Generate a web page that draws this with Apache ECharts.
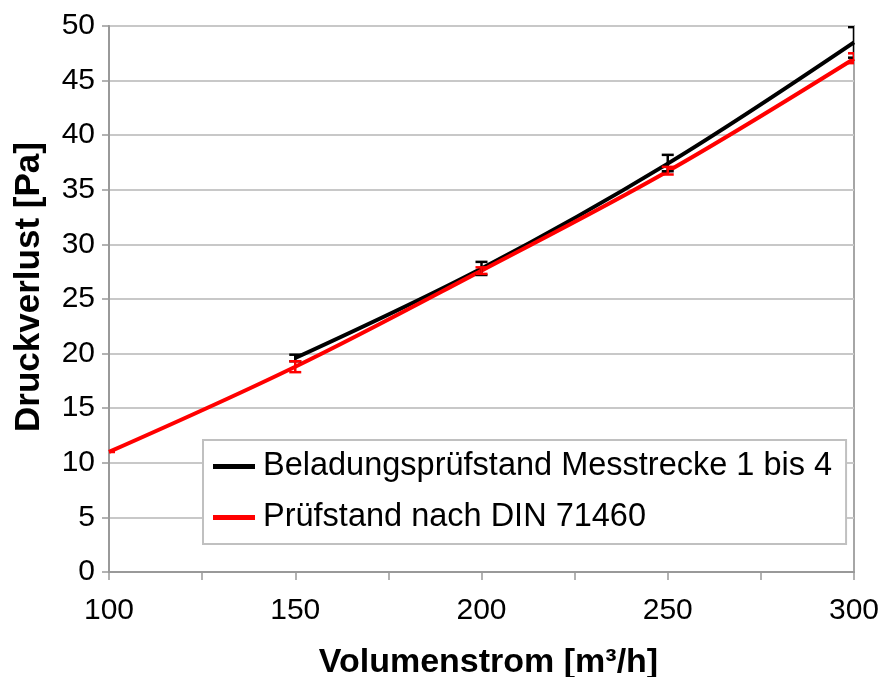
<!DOCTYPE html>
<html>
<head>
<meta charset="utf-8">
<script src="https://cdn.jsdelivr.net/npm/echarts@6/dist/echarts.min.js"></script>
<style>
  html, body { margin: 0; padding: 0; background: #fff; }
  #chart { width: 883px; height: 677px; }
</style>
</head>
<body>
<div id="chart"></div>
<script>
// Volumenstrom [m³/h] and pressure loss [Pa]
const flowBeladung = [150, 200, 250, 300];
const lossBeladung = [19.6, 27.8, 37.4, 48.5];
const errLowBeladung = [19.3, 27.2, 36.7, 47.1];
const errHighBeladung = [19.9, 28.4, 38.2, 49.9];

const flowDin = [100, 150, 200, 250, 300];
const lossDin = [11.0, 18.8, 27.6, 36.7, 47.0];
const errLowDin = [11.0, 18.3, 27.3, 36.4, 46.6];
const errHighDin = [11.0, 19.3, 27.9, 37.1, 47.5];

const seriesNames = ['Beladungsprüfstand Messtrecke 1 bis 4', 'Prüfstand nach DIN 71460'];
const xLabels = [100, 150, 200, 250, 300];

const FONT = '"Liberation Sans", Arial, sans-serif';

function pairs(xs, ys) { return xs.map((x, i) => [x, ys[i]]); }
function errData(xs, lo, hi) { return xs.map((x, i) => [x, lo[i], hi[i]]); }

function errorBars(color) {
  return function (params, api) {
    const x = api.value(0);
    const lo = api.coord([x, api.value(1)]);
    const hi = api.coord([x, api.value(2)]);
    const cap = 6;
    const style = { stroke: color, lineWidth: 2.5 };
    return {
      type: 'group',
      children: [
        { type: 'line', shape: { x1: lo[0], y1: lo[1], x2: hi[0], y2: hi[1] }, style },
        { type: 'line', shape: { x1: lo[0] - cap, y1: lo[1], x2: lo[0] + cap, y2: lo[1] }, style },
        { type: 'line', shape: { x1: hi[0] - cap, y1: hi[1], x2: hi[0] + cap, y2: hi[1] }, style }
      ]
    };
  };
}

const chart = echarts.init(document.getElementById('chart'), null, { renderer: 'canvas' });
chart.setOption({
  animation: false,
  backgroundColor: '#ffffff',
  grid: {
    left: 109, right: 29, top: 26, bottom: 105,
    containLabel: false, outerBoundsMode: 'none',
    show: true, borderColor: '#a6a6a6', borderWidth: 2
  },
  xAxis: {
    type: 'value', min: 100, max: 300, interval: 25,
    name: 'Volumenstrom [m³/h]', nameLocation: 'middle', nameGap: 74,
    nameTextStyle: { fontFamily: FONT, fontSize: 34, fontWeight: 'bold', color: '#000', padding: [0, 0, 0, 14] },
    axisLine: { show: true, lineStyle: { color: '#999999', width: 2 } },
    axisTick: { show: true, length: 8, lineStyle: { color: '#999999', width: 1.5 } },
    axisLabel: {
      fontFamily: FONT, fontSize: 30, color: '#000', margin: 24,
      formatter: v => (xLabels.indexOf(v) >= 0 ? String(v) : '')
    },
    splitLine: { show: false }
  },
  yAxis: {
    type: 'value', min: 0, max: 50, interval: 5,
    name: 'Druckverlust [Pa]', nameLocation: 'middle', nameGap: 62,
    nameTextStyle: { fontFamily: FONT, fontSize: 35, fontWeight: 'bold', color: '#000', padding: [0, 0, 0, 24] },
    axisLine: { show: true, lineStyle: { color: '#999999', width: 2 } },
    axisTick: { show: true, length: 7, lineStyle: { color: '#999999', width: 1.5 } },
    axisLabel: { fontFamily: FONT, fontSize: 30, color: '#000', margin: 14 },
    splitLine: { show: true, lineStyle: { color: '#c8c8c8', width: 2 } }
  },
  legend: {
    orient: 'vertical', left: 203, top: 440,
    backgroundColor: '#ffffff', borderColor: '#c0c0c0', borderWidth: 2,
    padding: [10, 14, 10, 10], itemGap: 18,
    itemWidth: 42, itemHeight: 5, icon: 'rect',
    textStyle: { fontFamily: FONT, fontSize: 32.5, color: '#000', padding: [0, 0, 0, 3] },
    data: seriesNames
  },
  series: [
    {
      name: seriesNames[0], type: 'line', smooth: 0.35, symbol: 'none',
      data: pairs(flowBeladung, lossBeladung),
      lineStyle: { color: '#000000', width: 4 }, itemStyle: { color: '#000000' }, z: 3
    },
    {
      name: seriesNames[1], type: 'line', smooth: 0.35, symbol: 'none',
      data: pairs(flowDin, lossDin),
      lineStyle: { color: '#ff0000', width: 4 }, itemStyle: { color: '#ff0000' }, z: 4
    },
    {
      type: 'custom', renderItem: errorBars('#000000'), clip: true, z: 5,
      data: errData(flowBeladung, errLowBeladung, errHighBeladung), encode: { x: 0, y: [1, 2] }
    },
    {
      type: 'custom', renderItem: errorBars('#ff0000'), clip: true, z: 6,
      data: errData(flowDin, errLowDin, errHighDin), encode: { x: 0, y: [1, 2] }
    }
  ]
});
</script>
</body>
</html>
